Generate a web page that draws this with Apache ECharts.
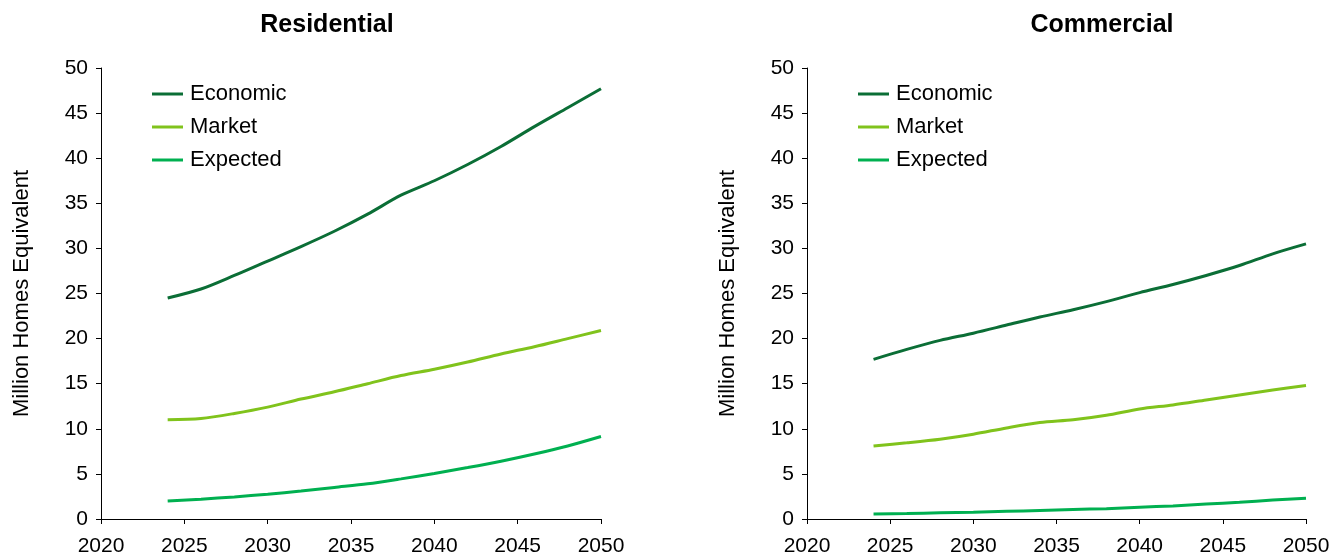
<!DOCTYPE html>
<html>
<head>
<meta charset="utf-8">
<script src="https://cdn.jsdelivr.net/npm/echarts@6/dist/echarts.min.js"></script>
<style>
  html, body { margin: 0; padding: 0; background: #fff; }
  #chart { width: 1333px; height: 556px; }
</style>
</head>
<body>
<div id="chart"></div>
<script>
// years shared by both panels
const years = [2024, 2026, 2028, 2030, 2032, 2034, 2036, 2038, 2040, 2042, 2044, 2046, 2048, 2050];

// Residential
const resEconomic = [24.5, 25.5, 27.0, 28.6, 30.2, 31.9, 33.8, 35.9, 37.5, 39.3, 41.3, 43.5, 45.6, 47.7];
const resMarket   = [11.0, 11.15, 11.7, 12.4, 13.3, 14.1, 15.0, 15.9, 16.6, 17.4, 18.3, 19.1, 20.0, 20.9];
const resExpected = [2.0, 2.2, 2.45, 2.75, 3.1, 3.5, 3.9, 4.45, 5.05, 5.7, 6.4, 7.2, 8.1, 9.15];

// Commercial
const comEconomic = [17.7, 18.8, 19.8, 20.6, 21.5, 22.4, 23.2, 24.1, 25.1, 26.0, 27.0, 28.1, 29.4, 30.5];
const comMarket   = [8.1, 8.45, 8.85, 9.4, 10.1, 10.7, 11.0, 11.5, 12.2, 12.65, 13.2, 13.75, 14.3, 14.8];
const comExpected = [0.55, 0.6, 0.7, 0.75, 0.85, 0.95, 1.05, 1.15, 1.3, 1.45, 1.65, 1.85, 2.1, 2.3];

const seriesNames = ['Economic', 'Market', 'Expected'];
const colors = ['#0b6e36', '#80c31c', '#00b050'];
const font = 'Liberation Sans, Arial, sans-serif';

const chart = echarts.init(document.getElementById('chart'));

const pairs = (vals) => years.map((y, i) => [y, vals[i]]);

const makeX = (gi) => ({
    type: 'value',
    gridIndex: gi,
    min: 2020,
    max: 2050,
    interval: 5,
    axisLine: { lineStyle: { color: '#000', width: 1 } },
    axisTick: { show: true, length: 5, lineStyle: { color: '#000' } },
    axisLabel: {
        color: '#000', fontSize: 21, fontFamily: font, margin: 17,
        formatter: (v) => String(v)
    },
    splitLine: { show: false }
});

const makeY = (gi) => ({
    type: 'value',
    gridIndex: gi,
    min: 0,
    max: 50,
    interval: 5,
    name: 'Million Homes Equivalent',
    nameLocation: 'middle',
    nameRotate: 90,
    nameGap: 68,
    nameTextStyle: { color: '#000', fontSize: 22, fontFamily: font },
    axisLine: { show: true, lineStyle: { color: '#000', width: 1 } },
    axisTick: { show: true, length: 5, lineStyle: { color: '#000' } },
    axisLabel: { color: '#000', fontSize: 21, fontFamily: font, margin: 13 },
    splitLine: { show: false }
});

const makeSeries = (name, vals, gi, color) => ({
    name: name,
    type: 'line',
    xAxisIndex: gi,
    yAxisIndex: gi,
    data: pairs(vals),
    smooth: 0.3,
    showSymbol: false,
    lineStyle: { color: color, width: 3 },
    itemStyle: { color: color },
    emphasis: { disabled: true }
});

const makeLegend = (left) => ({
    orient: 'vertical',
    left: left,
    top: 78,
    itemGap: 11,
    itemWidth: 31,
    itemHeight: 3,
    icon: 'rect',
    data: seriesNames,
    textStyle: { color: '#000', fontSize: 22, fontFamily: font, padding: [0, 0, 0, 2] },
    selectedMode: false
});

const option = {
    backgroundColor: '#fff',
    animation: false,
    title: [
        { text: 'Residential', left: 322, top: 8, textAlign: 'center',
          textStyle: { fontSize: 25, fontWeight: 'bold', color: '#000', fontFamily: font } },
        { text: 'Commercial', left: 1097, top: 8, textAlign: 'center',
          textStyle: { fontSize: 25, fontWeight: 'bold', color: '#000', fontFamily: font } }
    ],
    legend: [makeLegend(147), makeLegend(853)],
    grid: [
        { left: 101, top: 68, width: 500, bottom: 37, outerBoundsMode: 'none' },
        { left: 807, top: 68, width: 499, bottom: 37, outerBoundsMode: 'none' }
    ],
    xAxis: [makeX(0), makeX(1)],
    yAxis: [makeY(0), makeY(1)],
    series: [
        makeSeries('Economic', resEconomic, 0, colors[0]),
        makeSeries('Market', resMarket, 0, colors[1]),
        makeSeries('Expected', resExpected, 0, colors[2]),
        makeSeries('Economic', comEconomic, 1, colors[0]),
        makeSeries('Market', comMarket, 1, colors[1]),
        makeSeries('Expected', comExpected, 1, colors[2])
    ]
};

chart.setOption(option);
window.addEventListener('resize', chart.resize);
</script>
</body>
</html>
